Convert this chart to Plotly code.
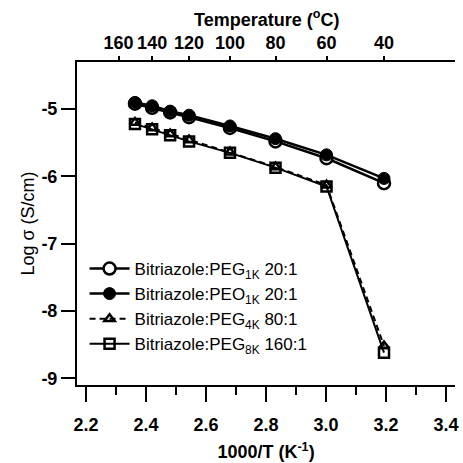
import plotly.graph_objects as go

temps_c = [150, 140, 130, 120, 100, 80, 60, 40]
inv_t = [1000.0 / (t + 273.15) for t in temps_c]

peg1k = [-4.92, -4.98, -5.05, -5.12, -5.28, -5.48, -5.73, -6.10]
peo1k = [-4.90, -4.95, -5.03, -5.09, -5.25, -5.44, -5.68, -6.03]
peg4k = [-5.20, -5.28, -5.37, -5.46, -5.64, -5.86, -6.13, -8.52]
peg8k = [-5.22, -5.30, -5.39, -5.48, -5.65, -5.87, -6.15, -8.62]

top_ticks_c = [160, 140, 120, 100, 80, 60, 40]
top_tickvals = [1000.0 / (t + 273.15) for t in top_ticks_c]
top_ticktext = [str(t) for t in top_ticks_c]

x_ticks = [2.2, 2.4, 2.6, 2.8, 3.0, 3.2, 3.4]
x_minor = [2.3, 2.5, 2.7, 2.9, 3.1, 3.3]
y_ticks = [-5, -6, -7, -8, -9]

names = [
    "Bitriazole:PEG<sub>1K</sub> 20:1",
    "Bitriazole:PEO<sub>1K</sub> 20:1",
    "Bitriazole:PEG<sub>4K</sub> 80:1",
    "Bitriazole:PEG<sub>8K</sub> 160:1",
]

fig = go.Figure()
fig.add_trace(go.Scatter(x=inv_t, y=peg1k, name=names[0], mode="lines+markers",
                         line=dict(color="black", width=2.5),
                         marker=dict(symbol="circle", size=12, color="white",
                                     line=dict(width=2.5, color="black"))))
fig.add_trace(go.Scatter(x=inv_t, y=peo1k, name=names[1], mode="lines+markers",
                         line=dict(color="black", width=2.5),
                         marker=dict(symbol="circle", size=12, color="black",
                                     line=dict(width=1, color="black"))))
fig.add_trace(go.Scatter(x=inv_t, y=peg4k, name=names[2], mode="lines+markers",
                         line=dict(color="black", width=2, dash="6px,4px"),
                         marker=dict(symbol="triangle-up-open", size=9, color="black",
                                     line=dict(width=2.5, color="black"))))
fig.add_trace(go.Scatter(x=inv_t, y=peg8k, name=names[3], mode="lines+markers",
                         line=dict(color="black", width=2),
                         marker=dict(symbol="square-open", size=10, color="black",
                                     line=dict(width=2.5, color="black"))))
# invisible trace to activate top axis
fig.add_trace(go.Scatter(x=inv_t, y=peg1k, xaxis="x2", mode="markers",
                         marker=dict(opacity=0), showlegend=False, hoverinfo="skip"))

font_tick = dict(family="Liberation Sans, Arial", size=18, color="black")
font_title = dict(family="Liberation Sans, Arial", size=18, color="black")

fig.update_layout(
    width=463, height=463,
    margin=dict(l=77, r=8, t=62, b=78),
    paper_bgcolor="white", plot_bgcolor="white",
    showlegend=True,
    legend=dict(x=0.02, y=0.415, xanchor="left", yanchor="top",
                traceorder="normal", bgcolor="rgba(0,0,0,0)",
                font=dict(family="Liberation Sans, Arial", size=17, color="black"),
                tracegroupgap=0, itemwidth=40),
    xaxis=dict(range=[2.17, 3.43], tickvals=x_ticks, automargin=False,
               ticktext=["<b>%.1f</b>" % v for v in x_ticks],
               showgrid=False, zeroline=False, showline=True, linecolor="black",
               linewidth=2, ticks="outside", ticklen=15, tickwidth=2, tickcolor="black",
               ticklabelstandoff=7,
               minor=dict(tickvals=x_minor, ticks="outside", ticklen=8, tickwidth=2,
                          tickcolor="black", showgrid=False),
               tickfont=font_tick,
               title=dict(text="<b>1000/T (K<sup>-1</sup>)</b>", font=font_title, standoff=12)),
    xaxis2=dict(range=[2.17, 3.43], overlaying="x", side="top", automargin=False,
                tickvals=top_tickvals, ticktext=["<b>%s</b>" % t for t in top_ticktext],
                showgrid=False, zeroline=False, showline=True, linecolor="black",
                linewidth=2, ticks="outside", ticklen=4, tickwidth=2, tickcolor="black",
                tickfont=font_tick),
    yaxis=dict(range=[-9.1, -4.3], tickvals=y_ticks, automargin=False,
               ticktext=["<b>%d</b>" % v for v in y_ticks],
               showgrid=False, zeroline=False, showline=True, linecolor="black",
               linewidth=2, ticks="outside", ticklen=14, tickwidth=2, tickcolor="black",
               tickfont=font_tick,
               title=dict(text="Log σ (S/cm)", font=font_title, standoff=2)),
    annotations=[dict(text="<b>Temperature (<sup>o</sup>C)</b>", xref="paper", yref="paper",
                      x=0.5, y=1.135, xanchor="center", yanchor="middle",
                      showarrow=False, font=font_title)],
)

fig.write_html("out.html")
